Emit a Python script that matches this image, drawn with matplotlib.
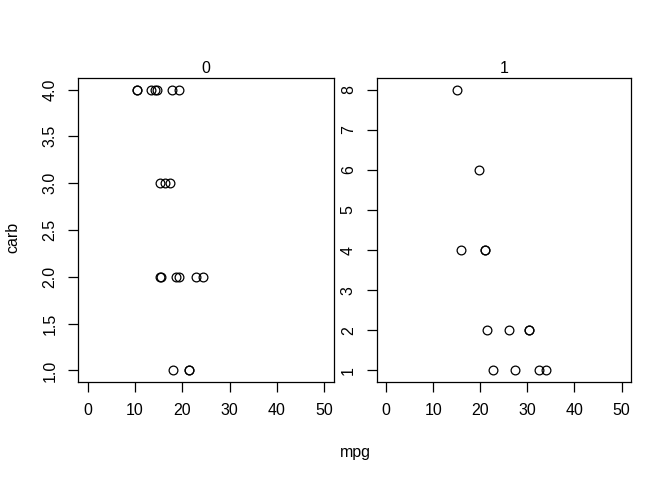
import matplotlib
matplotlib.use("Agg")
import matplotlib.pyplot as plt
import numpy as np

plt.rcParams['font.family'] = ['Liberation Sans', 'DejaVu Sans']

# mtcars: mpg and carb split by am
mpg_am0 = [21.4, 18.7, 18.1, 14.3, 24.4, 22.8, 19.2, 17.8, 16.4, 17.3, 15.2,
           10.4, 10.4, 14.7, 21.5, 15.5, 15.2, 13.3, 19.2]
carb_am0 = [1, 2, 1, 4, 2, 2, 4, 4, 3, 3, 3, 4, 4, 4, 1, 2, 2, 4, 2]
mpg_am1 = [21.0, 21.0, 22.8, 32.4, 30.4, 33.9, 27.3, 26.0, 30.4, 15.8, 19.7, 15.0, 21.4]
carb_am1 = [4, 4, 1, 1, 2, 1, 1, 2, 2, 4, 6, 8, 2]

panel_titles = ["0", "1"]
x_ticks = [0, 10, 20, 30, 40, 50]
y_ticks_left = [1.0, 1.5, 2.0, 2.5, 3.0, 3.5, 4.0]
y_labels_left = ["1.0", "1.5", "2.0", "2.5", "3.0", "3.5", "4.0"]
y_ticks_right = [1, 2, 3, 4, 5, 6, 7, 8]

W, H = 672, 480
fig = plt.figure(figsize=(W / 100, H / 100), dpi=100)
fs = 11.5

def add_ax(x0, x1, y0, y1):
    return fig.add_axes([x0 / W, 1 - y1 / H, (x1 - x0) / W, (y1 - y0) / H])

ax1 = add_ax(78.3, 333.7, 78.3, 381.7)
ax2 = add_ax(376.7, 631.0, 78.3, 381.7)

for ax, xs, ys, title, yt, yl in [
    (ax1, mpg_am0, carb_am0, panel_titles[0], y_ticks_left, y_labels_left),
    (ax2, mpg_am1, carb_am1, panel_titles[1], y_ticks_right, [str(v) for v in y_ticks_right]),
]:
    ax.plot(xs, ys, linestyle='none', marker='o', markersize=6.3,
            markerfacecolor='none', markeredgecolor='black', markeredgewidth=0.9)
    ax.set_xlim(-2, 52)
    rng = yt[-1] - yt[0]
    ax.set_ylim(yt[0] - 0.04 * rng, yt[-1] + 0.04 * rng)
    ax.set_xticks(x_ticks)
    ax.set_xticklabels([str(v) for v in x_ticks], fontsize=fs)
    ax.set_yticks(yt)
    ax.set_yticklabels(yl, fontsize=fs, rotation=90, va='center')
    ax.tick_params(axis='both', direction='out', length=7, width=0.9, color='black')
    ax.tick_params(axis='x', pad=8)
    ax.tick_params(axis='y', pad=8)
    for s in ax.spines.values():
        s.set_linewidth(0.9)
        s.set_color('black')
    ax.set_title(title, fontsize=fs, pad=4)

fig.text(355 / W, 1 - 452 / H, "mpg", ha='center', va='center', fontsize=fs)
fig.text(13 / W, 1 - 237 / H, "carb", ha='center', va='center', fontsize=fs, rotation=90)

fig.savefig("out.png", dpi=100)
